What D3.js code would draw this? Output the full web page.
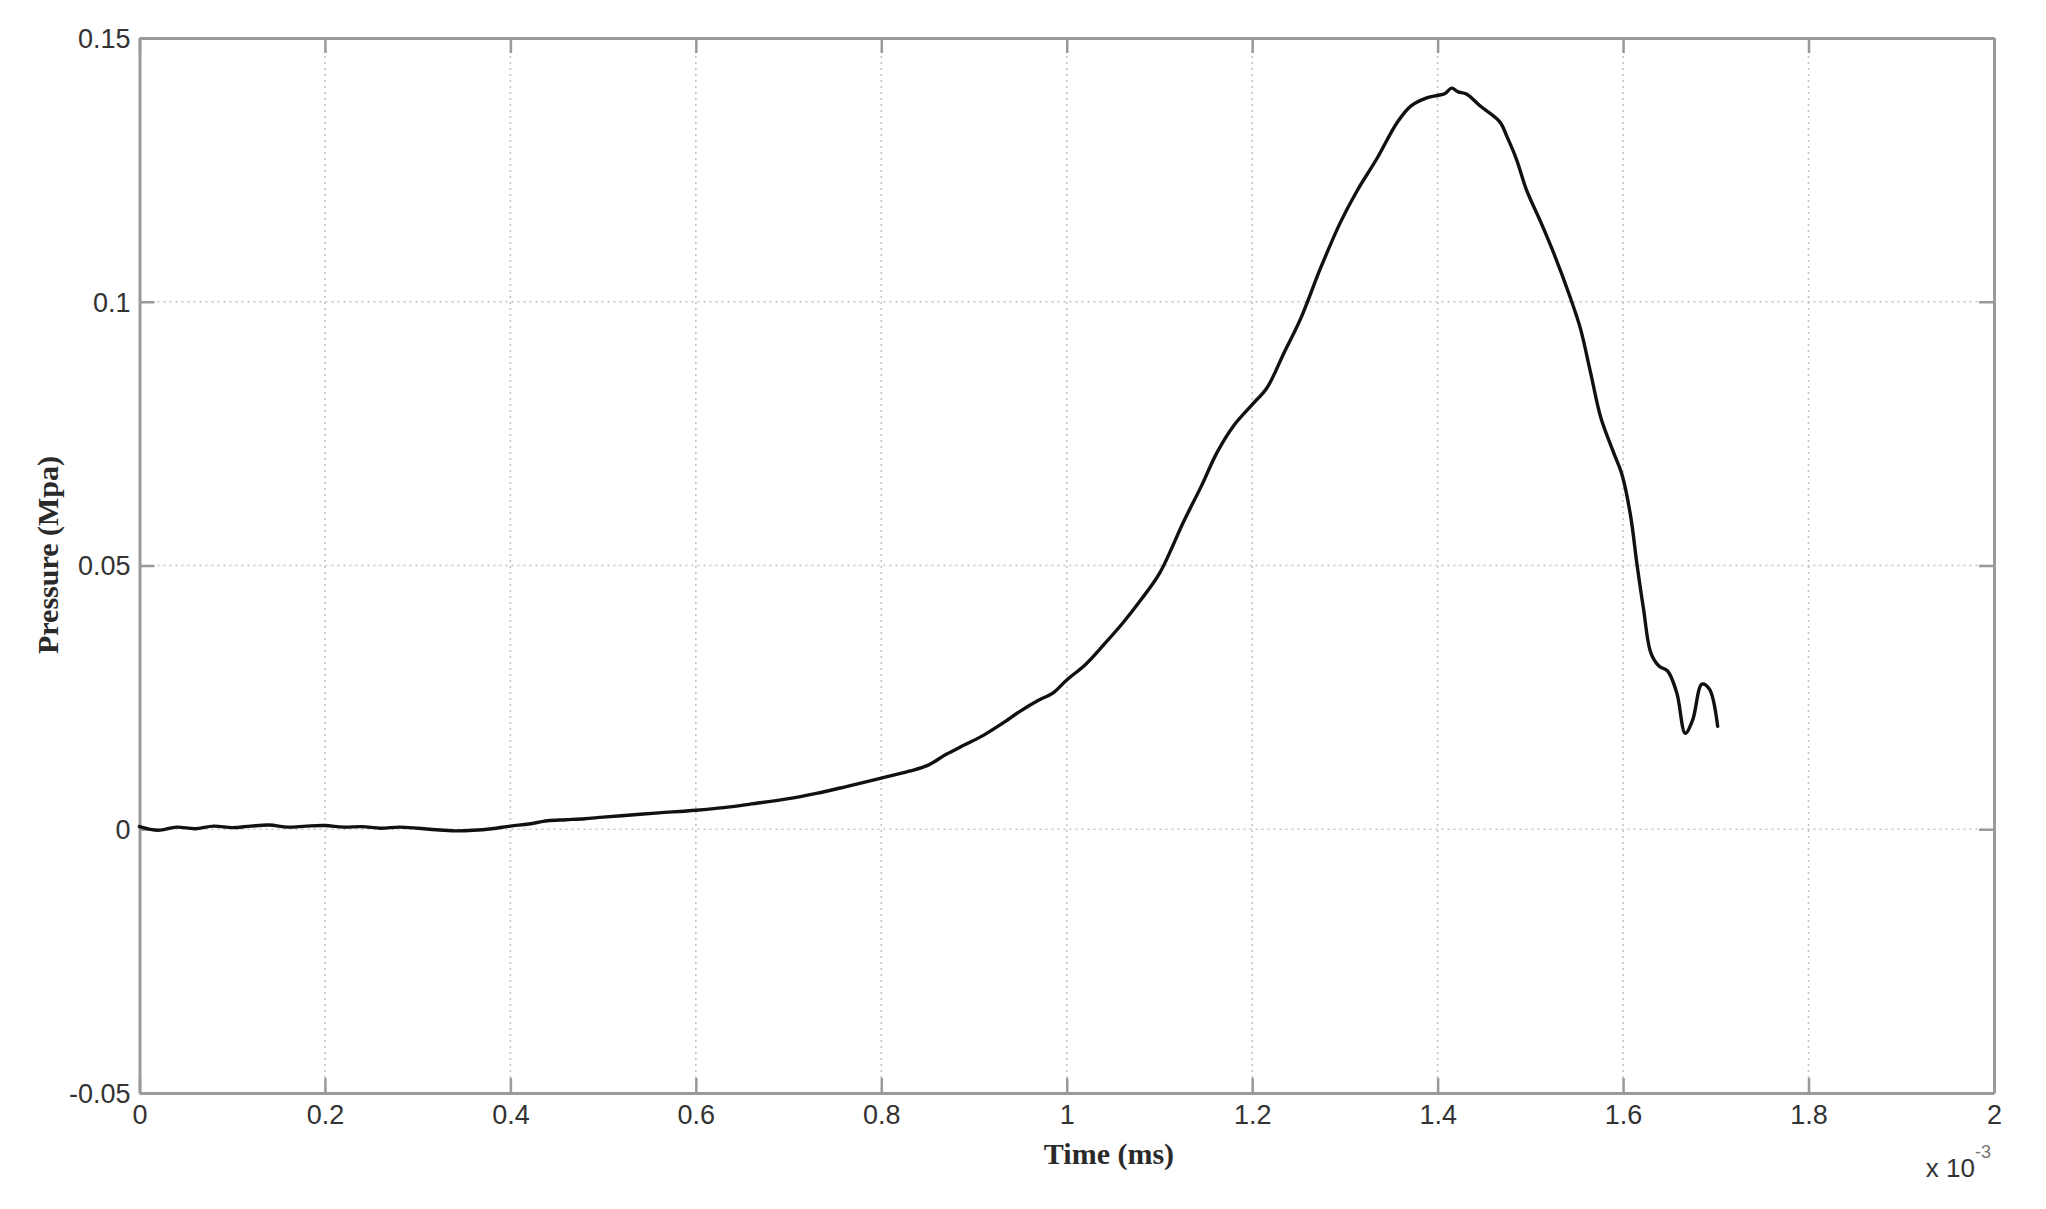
<!DOCTYPE html>
<html>
<head>
<meta charset="utf-8">
<script src="https://cdn.jsdelivr.net/npm/d3@7"></script>
<style>
  html, body { margin: 0; padding: 0; background: #fff; }
  svg { display: block; }
</style>
</head>
<body>
<svg id="chart" width="2046" height="1209"></svg>
<script>
// ---- data (time in units of 1e-3, pressure in MPa) ----
const timeValues = [
  0, 0.02, 0.04, 0.06, 0.08, 0.10, 0.12, 0.14, 0.16, 0.18,
  0.20, 0.22, 0.24, 0.26, 0.28, 0.30, 0.32, 0.34, 0.36, 0.38,
  0.40, 0.42, 0.44, 0.46, 0.48, 0.50, 0.53, 0.56, 0.60, 0.63,
  0.66, 0.70, 0.73, 0.76, 0.80, 0.83, 0.85, 0.87, 0.89, 0.91,
  0.93, 0.95, 0.97, 0.985, 1.00, 1.02, 1.04, 1.06, 1.08, 1.10,
  1.126, 1.145, 1.162, 1.18, 1.20, 1.216, 1.234, 1.252, 1.274, 1.295,
  1.313, 1.335, 1.356, 1.371, 1.389, 1.40, 1.408, 1.415, 1.422, 1.431,
  1.446, 1.467, 1.475, 1.485, 1.496, 1.511, 1.525, 1.543, 1.554, 1.565,
  1.576, 1.590, 1.599, 1.608, 1.615, 1.622, 1.630, 1.639, 1.648, 1.658,
  1.667, 1.675, 1.685, 1.693, 1.702
];
const pressureValues = [
  0.0005, -0.0002, 0.0004, 0.0001, 0.0006, 0.0003, 0.0006, 0.0008, 0.0004, 0.0006,
  0.0007, 0.0004, 0.0005, 0.0002, 0.0004, 0.0002, -0.0001, -0.0003, -0.0002, 0.0001,
  0.0006, 0.0010, 0.0016, 0.0018, 0.0020, 0.0023, 0.0027, 0.0031, 0.0036, 0.0041,
  0.0048, 0.0058, 0.0068, 0.0080, 0.0097, 0.0110, 0.0121, 0.0142, 0.0160, 0.0178,
  0.0200, 0.0224, 0.0245, 0.0258, 0.0283, 0.0312, 0.0350, 0.0390, 0.0435, 0.0485,
  0.0583, 0.0650, 0.0714, 0.0765, 0.0805, 0.0837, 0.0902, 0.0967, 0.1065, 0.1150,
  0.1210, 0.1273, 0.1339, 0.1371, 0.1387, 0.1391, 0.1395, 0.1405, 0.1398, 0.1394,
  0.1371, 0.1341, 0.1312, 0.1270, 0.1211, 0.1152, 0.1093, 0.1008, 0.0949, 0.0865,
  0.0780, 0.0713, 0.0671, 0.0595, 0.0502, 0.0418, 0.0334, 0.0309, 0.0300, 0.0258,
  0.0182, 0.0207, 0.0275, 0.0266, 0.0195
];
const xTickValues = [0, 0.2, 0.4, 0.6, 0.8, 1, 1.2, 1.4, 1.6, 1.8, 2];
const xTickLabels = ["0", "0.2", "0.4", "0.6", "0.8", "1", "1.2", "1.4", "1.6", "1.8", "2"];
const yTickValues = [-0.05, 0, 0.05, 0.1, 0.15];
const yTickLabels = ["-0.05", "0", "0.05", "0.1", "0.15"];
const xLabel = "Time (ms)";
const yLabel = "Pressure (Mpa)";
const xMultiplierBase = "x 10";
const xMultiplierExp = "-3";

// ---- layout ----
const svg = d3.select("#chart");
const plotL = 139.5, plotR = 1994, plotT = 38, plotB = 1093;
const x = d3.scaleLinear().domain([0, 2]).range([plotL, plotR]);
const y = d3.scaleLinear().domain([-0.05, 0.15]).range([plotB, plotT]);

const axisColor = "#9a9a9a";
const textColor = "#333";
const tickFont = "Liberation Sans, Arial, sans-serif";
const labelFont = "Liberation Serif, Times New Roman, serif";

// gridlines
const grid = svg.append("g");
grid.selectAll("line.vg").data(xTickValues.slice(1, -1)).enter().append("line")
  .attr("x1", d => x(d)).attr("x2", d => x(d))
  .attr("y1", plotT).attr("y2", plotB)
  .attr("stroke", "#c4c4c4").attr("stroke-width", 1.6).attr("stroke-dasharray", "2,4");
grid.selectAll("line.hg").data(yTickValues.slice(1, -1)).enter().append("line")
  .attr("y1", d => y(d)).attr("y2", d => y(d))
  .attr("x1", plotL).attr("x2", plotR)
  .attr("stroke", "#c4c4c4").attr("stroke-width", 1.6).attr("stroke-dasharray", "2,4");

// axes with inward ticks on all sides
const tickLen = 15;
function styleAxis(g) {
  g.select(".domain").attr("stroke", axisColor).attr("stroke-width", 3);
  g.selectAll(".tick line").attr("stroke", axisColor).attr("stroke-width", 2.5);
}
const xBottom = svg.append("g").attr("transform", `translate(0,${plotB})`)
  .call(d3.axisBottom(x).tickValues(xTickValues).tickSizeInner(-tickLen).tickSizeOuter(0)
    .tickFormat((d, i) => xTickLabels[i]));
styleAxis(xBottom);
xBottom.selectAll(".tick text").attr("font-family", tickFont).attr("font-size", 27)
  .attr("fill", textColor).attr("dy", "0.75em").attr("y", 11);

const xTop = svg.append("g").attr("transform", `translate(0,${plotT})`)
  .call(d3.axisTop(x).tickValues(xTickValues).tickSizeInner(-tickLen).tickSizeOuter(0).tickFormat(""));
styleAxis(xTop);

const yLeft = svg.append("g").attr("transform", `translate(${plotL},0)`)
  .call(d3.axisLeft(y).tickValues(yTickValues).tickSizeInner(-tickLen).tickSizeOuter(0)
    .tickFormat((d, i) => yTickLabels[i]));
styleAxis(yLeft);
yLeft.selectAll(".tick text").attr("font-family", tickFont).attr("font-size", 27)
  .attr("fill", textColor).attr("x", -9).attr("dy", "0.35em");

const yRight = svg.append("g").attr("transform", `translate(${plotR},0)`)
  .call(d3.axisRight(y).tickValues(yTickValues).tickSizeInner(-tickLen).tickSizeOuter(0).tickFormat(""));
styleAxis(yRight);

// data line
const pts = timeValues.map((t, i) => [t, pressureValues[i]]);
svg.append("path").datum(pts)
  .attr("fill", "none").attr("stroke", "#111").attr("stroke-width", 3.4)
  .attr("stroke-linejoin", "round").attr("stroke-linecap", "round")
  .attr("d", d3.line().curve(d3.curveCatmullRom.alpha(0.5)).x(d => x(d[0])).y(d => y(d[1])));

// axis labels
svg.append("text").text(xLabel)
  .attr("x", 1109).attr("y", 1164)
  .attr("text-anchor", "middle").attr("font-family", labelFont).attr("font-weight", "bold")
  .attr("font-size", 30).attr("fill", "#2a2a2a");

svg.append("text").text(yLabel)
  .attr("transform", "translate(58,555) rotate(-90)")
  .attr("text-anchor", "middle").attr("font-family", labelFont).attr("font-weight", "bold")
  .attr("font-size", 30).attr("fill", "#2a2a2a");

// exponent note
svg.append("text").attr("x", 1975).attr("y", 1177)
  .attr("text-anchor", "end").attr("font-family", tickFont).attr("font-size", 26).attr("fill", textColor)
  .text(xMultiplierBase);
svg.append("text").attr("x", 1975).attr("y", 1158)
  .attr("text-anchor", "start").attr("font-family", tickFont).attr("font-size", 18).attr("fill", "#777")
  .text(xMultiplierExp);
</script>
</body>
</html>
